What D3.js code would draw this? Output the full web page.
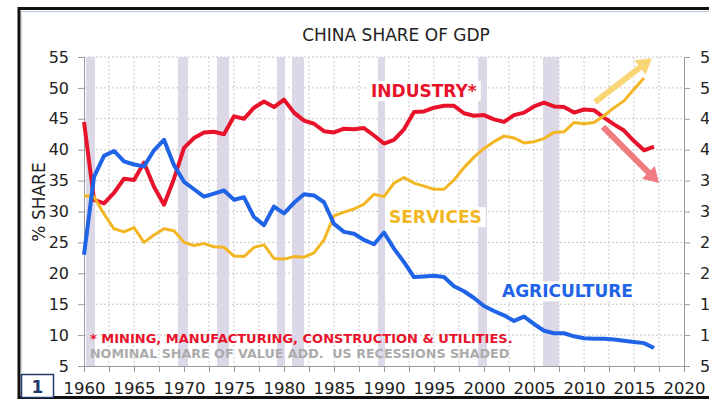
<!DOCTYPE html>
<meta charset="utf-8">
<style>
body { margin: 0; background: #fff; }
svg { font-family: "DejaVu Sans", Verdana, sans-serif; display: block; }
.grid line { stroke: #c8c8c8; stroke-dasharray: 2,2; }
.axis path, .axis line { stroke: #9a9a9a; }
.axis text { font-size: 16px; fill: #222; font-family: "DejaVu Sans", Verdana, sans-serif; }
</style>
<svg width="709" height="400"></svg>
<script src="https://d3js.org/d3.v7.min.js"></script>
<script>

// China sectoral share of GDP, 1960-2017 (%)
var years = d3.range(1960, 2018);
var industry = [44.5, 31.9, 31.3, 33.0, 35.3, 35.1, 37.9, 34.0, 31.1, 35.3,
                40.3, 41.9, 42.8, 42.9, 42.5, 45.4, 45.0, 46.8, 47.8, 46.9,
                48.1, 46.0, 44.7, 44.2, 43.0, 42.8, 43.4, 43.3, 43.5, 42.3,
                41.0, 41.6, 43.3, 46.1, 46.2, 46.8, 47.1, 47.1, 45.9, 45.5,
                45.6, 44.9, 44.5, 45.6, 46.0, 47.0, 47.6, 47.0, 46.9, 46.0,
                46.5, 46.4, 45.2, 44.1, 43.1, 41.4, 39.9, 40.5];
var agriculture = [23.0, 35.6, 39.0, 39.8, 38.1, 37.6, 37.3, 39.9, 41.6, 37.5,
                34.8, 33.6, 32.4, 32.9, 33.4, 31.9, 32.3, 29.1, 27.8, 30.8,
                29.7, 31.4, 32.8, 32.6, 31.5, 28.0, 26.7, 26.4, 25.4, 24.7,
                26.6, 24.0, 21.8, 19.4, 19.5, 19.6, 19.4, 17.9, 17.1, 16.0,
                14.7, 13.9, 13.2, 12.3, 13.0, 11.8, 10.7, 10.3, 10.3, 9.8,
                9.5, 9.4, 9.4, 9.3, 9.1, 8.9, 8.7, 7.9];
var services = [32.6, 32.4, 29.6, 27.2, 26.7, 27.4, 25.0, 26.2, 27.2, 26.9,
                25.0, 24.5, 24.8, 24.3, 24.2, 22.8, 22.7, 24.2, 24.6, 22.4,
                22.3, 22.7, 22.6, 23.3, 25.4, 29.3, 29.9, 30.4, 31.2, 32.8,
                32.4, 34.6, 35.5, 34.6, 34.1, 33.6, 33.6, 35.1, 37.1, 38.8,
                40.2, 41.3, 42.2, 41.9, 41.1, 41.3, 41.8, 42.8, 42.9, 44.4,
                44.2, 44.4, 45.5, 46.8, 47.9, 49.8, 51.6];

// US recessions (as drawn)
var recessions = [[1960.2, 1961.1], [1969.4, 1970.4], [1973.3, 1974.5], [1979.3, 1980.1],
                  [1980.8, 1982.0], [1989.4, 1990.1], [1999.4, 2000.3], [2005.9, 2007.5]];

var yTicks = [5, 10, 15, 20, 25, 30, 35, 40, 45, 50, 55];
var xTicks = d3.range(1960, 2020.1, 2.5);
var xLabels = [1960, 1965, 1970, 1975, 1980, 1985, 1990, 1995, 2000, 2005, 2010, 2015, 2020];

var seriesNames = ["INDUSTRY*", "SERVICES", "AGRICULTURE"];
var seriesColors = ["#e8132b", "#f3b623", "#1f64e6"];
var labelPos = [[1988.7, 48.5], [1990.5, 28.1], [2001.8, 16.1]];

// trend arrows [x0, y0, x1, y1]
var arrows = [[2011.1, 47.7, 2016.8, 54.8], [2011.9, 43.7, 2017.5, 34.6]];
var arrowColors = ["#f9d675", "#f17b80"];

var svg = d3.select("svg");
var x = d3.scaleLinear().domain([1960, 2020]).range([84, 684]);
var y = d3.scaleLinear().domain([5, 55]).range([366, 57]);

svg.append("rect").attr("width", 709).attr("height", 400).attr("fill", "#fff");

// frame
svg.append("rect").attr("x", 19).attr("y", 8.5).attr("width", 720).attr("height", 389)
    .attr("fill", "none").attr("stroke", "#111").attr("stroke-width", 3);
svg.append("line").attr("x1", 21).attr("x2", 709).attr("y1", 11.5).attr("y2", 11.5)
    .attr("stroke", "#b8c8dc").attr("stroke-width", 1);
svg.append("line").attr("x1", 21.5).attr("x2", 21.5).attr("y1", 11).attr("y2", 372)
    .attr("stroke", "#c8d4e2").attr("stroke-width", 1);

// gridlines
var grid = svg.append("g").attr("class", "grid");
grid.selectAll("line.v").data(xTicks.filter(function(d) { return d > 1960 && d < 2020; }))
  .enter().append("line").attr("class", "v")
    .attr("x1", function(d) { return x(d); }).attr("x2", function(d) { return x(d); })
    .attr("y1", y(55)).attr("y2", y(5));
grid.selectAll("line.h").data(yTicks.filter(function(d) { return d > 5; }))
  .enter().append("line").attr("class", "h")
    .attr("x1", x(1960)).attr("x2", x(2020))
    .attr("y1", function(d) { return y(d); }).attr("y2", function(d) { return y(d); });

// recession bands
svg.append("g").selectAll("rect").data(recessions).enter().append("rect")
    .attr("x", function(d) { return x(d[0]); })
    .attr("width", function(d) { return x(d[1]) - x(d[0]); })
    .attr("y", y(55)).attr("height", y(5) - y(55))
    .attr("fill", "#dcd8e7");

// axes
svg.append("g").attr("class", "axis")
    .attr("transform", "translate(" + x(1960) + ",0)")
    .call(d3.axisLeft(y).tickValues(yTicks).tickSize(6).tickSizeOuter(0).tickPadding(9));
svg.append("g").attr("class", "axis")
    .attr("transform", "translate(" + x(2020) + ",0)")
    .call(d3.axisRight(y).tickValues(yTicks).tickSize(6).tickSizeOuter(0).tickPadding(10));
var xAxis = svg.append("g").attr("class", "axis")
    .attr("transform", "translate(0," + y(5) + ")")
    .call(d3.axisBottom(x).tickValues(xTicks).tickSize(6).tickSizeOuter(0).tickPadding(10)
      .tickFormat(function(d) { return xLabels.indexOf(d) >= 0 ? d : ""; }));
xAxis.selectAll("text").style("font-size", "16.5px");

// series labels with white backing
var allSeries = [industry, services, agriculture];
var backing = svg.append("g");
var labelG = svg.append("g");
seriesNames.forEach(function(name, i) {
    var t = labelG.append("text")
        .attr("x", x(labelPos[i][0])).attr("y", y(labelPos[i][1]))
        .attr("fill", seriesColors[i])
        .style("font-size", "17px").style("font-weight", "bold")
        .text(name);
    var b = t.node().getBBox();
    backing.append("rect")
        .attr("x", b.x - 4).attr("y", b.y).attr("width", b.width + 8).attr("height", b.height)
        .attr("fill", "#fff");
});

// lines
var line = d3.line()
    .x(function(d, i) { return x(years[i]); })
    .y(function(d) { return y(d); });
[0, 1, 2].forEach(function(i) {
    svg.append("path").datum(allSeries[i])
        .attr("d", line)
        .attr("fill", "none")
        .attr("stroke", seriesColors[i])
        .attr("stroke-width", i == 1 ? 3 : 4)
        .attr("stroke-linejoin", "round");
});

// arrows
arrows.forEach(function(a, i) {
    var x0 = x(a[0]), y0 = y(a[1]), x1 = x(a[2]), y1 = y(a[3]);
    var dx = x1 - x0, dy = y1 - y0, len = Math.sqrt(dx * dx + dy * dy);
    var ux = dx / len, uy = dy / len, nx = -uy, ny = ux;
    var hl = 15, hw = 9, sw = 3;
    var bx = x1 - ux * hl, by = y1 - uy * hl;
    var pts = [[x0 + nx * sw, y0 + ny * sw], [bx + nx * sw, by + ny * sw], [bx + nx * hw, by + ny * hw],
               [x1, y1], [bx - nx * hw, by - ny * hw], [bx - nx * sw, by - ny * sw], [x0 - nx * sw, y0 - ny * sw]];
    svg.append("polygon")
        .attr("points", pts.map(function(p) { return p.join(","); }).join(" "))
        .attr("fill", arrowColors[i]);
});

// title & axis label
svg.append("text").attr("x", 396).attr("y", 41).attr("text-anchor", "middle")
    .style("font-size", "17px").attr("fill", "#222").text("CHINA SHARE OF GDP");
svg.append("text").attr("transform", "translate(45,202) rotate(-90)").attr("text-anchor", "middle")
    .style("font-size", "17px").attr("fill", "#222").text("% SHARE");

// footnotes
svg.append("text").attr("x", 90).attr("y", 343)
    .style("font-size", "13px").style("font-weight", "bold").attr("fill", "#e8132b")
    .text("* MINING, MANUFACTURING, CONSTRUCTION & UTILITIES.");
svg.append("text").attr("x", 90).attr("y", 358)
    .style("font-size", "12.7px").style("font-weight", "bold").style("white-space", "pre")
    .attr("fill", "#ababab")
    .text("NOMINAL SHARE OF VALUE ADD.  US RECESSIONS SHADED");

// page number box
svg.append("rect").attr("x", 21.5).attr("y", 374.5).attr("width", 32).attr("height", 23)
    .attr("fill", "#fff").attr("stroke", "#1f3a6b").attr("stroke-width", 1.5);
svg.append("text").attr("x", 37.5).attr("y", 393).attr("text-anchor", "middle")
    .style("font-size", "17px").style("font-weight", "bold").attr("fill", "#1f3a6b").text("1");

</script>
